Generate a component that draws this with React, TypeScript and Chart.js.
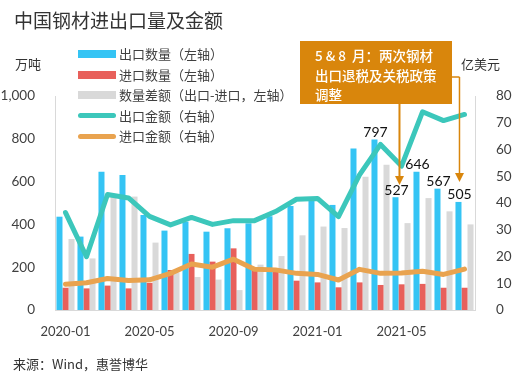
import React, { useEffect, useRef } from 'react';
import { Chart, registerables } from 'chart.js';

Chart.register(...registerables);

// ---- data ----
const months = [
  '2020-01', '2020-02', '2020-03', '2020-04', '2020-05', '2020-06', '2020-07', '2020-08', '2020-09', '2020-10',
  '2020-11', '2020-12', '2021-01', '2021-02', '2021-03', '2021-04', '2021-05', '2021-06', '2021-07', '2021-08',
];
const shownTicks = ['2020-01', '2020-05', '2020-09', '2021-01', '2021-05'];
// 万吨
const exportQty = [436, 343, 646, 631, 444, 371, 413, 366, 382, 405, 438, 486, 514, 491, 755, 797, 527, 646, 567, 505];
const importQty = [104, 101, 114, 101, 127, 187, 262, 226, 288, 187, 185, 137, 129, 106, 129, 117, 120, 122, 104, 104];
const diffQty = [332, 241, 530, 530, 315, 176, 154, 142, 93, 212, 252, 349, 390, 383, 623, 679, 406, 523, 461, 400];
// 亿美元
const exportAmt = [36.4, 19.9, 43.2, 41.9, 35.0, 31.8, 34.6, 32.0, 33.4, 33.4, 36.8, 41.4, 41.7, 34.9, 50.5, 61.9, 53.8, 74.1, 70.8, 73.1];
const importAmt = [9.6, 10.2, 11.8, 11.0, 11.3, 13.7, 17.2, 16.0, 19.0, 15.2, 15.0, 13.7, 13.3, 11.2, 15.2, 13.7, 13.8, 14.5, 13.3, 15.3];
const labeledIdx = [15, 16, 17, 18, 19];

const legendItems = [
  { text: '出口数量（左轴）', color: '#35C4F4', kind: 'bar' },
  { text: '进口数量（左轴）', color: '#E8605B', kind: 'bar' },
  { text: '数量差额（出口-进口，左轴）', color: '#D9D9D9', kind: 'bar' },
  { text: '出口金额（右轴）', color: '#3CC7BB', kind: 'line' },
  { text: '进口金额（右轴）', color: '#E9A34F', kind: 'line' },
];

const FONT_CN = '"Noto Sans CJK SC", "Noto Sans", sans-serif';
const FONT_NUM = 'Lato, "Noto Sans", sans-serif';
const BOX = '#D9860C';
const TEXT = '#333333';

const annotPlugin = {
  id: 'annot',
  afterDatasetsDraw(chart: any) {
    const ctx = chart.ctx;
    const meta = chart.getDatasetMeta(0);
    ctx.save();
    // arrows
    const drawArrow = (x: number, y0: number, tip: number, lw: number) => {
      ctx.strokeStyle = BOX;
      ctx.fillStyle = BOX;
      ctx.lineWidth = lw;
      ctx.beginPath();
      ctx.moveTo(x, y0);
      ctx.lineTo(x, tip - 8);
      ctx.stroke();
      ctx.beginPath();
      ctx.moveTo(x - 4.5, tip - 9);
      ctx.lineTo(x + 4.5, tip - 9);
      ctx.lineTo(x, tip);
      ctx.closePath();
      ctx.fill();
    };
    const x1 = meta.data[16].x + 4;
    const x2 = meta.data[19].x + 1;
    drawArrow(x1, 104, 185, 2);
    ctx.lineWidth = 1.5;
    ctx.beginPath();
    ctx.moveTo(451, 77);
    ctx.lineTo(x2, 77);
    ctx.stroke();
    drawArrow(x2, 77, 182, 1.5);

    // labels
    ctx.fillStyle = '#111111';
    ctx.font = `14px ${FONT_NUM}`;
    ctx.textAlign = 'center';
    ctx.textBaseline = 'alphabetic';
    labeledIdx.forEach((i) => {
      const el = meta.data[i];
      ctx.fillText(String(exportQty[i]), el.x + 1, el.y - 2.5);
    });
    ctx.restore();
  },
};

export default function App() {
  const ref = useRef<HTMLCanvasElement | null>(null);

  useEffect(() => {
    if (!ref.current) return;
    const chart = new Chart(ref.current, {
      type: 'bar',
      data: {
        labels: months,
        datasets: [
          { type: 'bar', label: '出口数量', data: exportQty, backgroundColor: '#35C4F4', yAxisID: 'y', order: 2, barPercentage: 1, categoryPercentage: 0.86 },
          { type: 'bar', label: '进口数量', data: importQty, backgroundColor: '#E8605B', yAxisID: 'y', order: 2, barPercentage: 1, categoryPercentage: 0.86 },
          { type: 'bar', label: '数量差额', data: diffQty, backgroundColor: '#D9D9D9', yAxisID: 'y', order: 2, barPercentage: 1, categoryPercentage: 0.86 },
          { type: 'line', label: '出口金额', data: exportAmt, borderColor: '#3CC7BB', backgroundColor: '#3CC7BB', borderWidth: 5, pointRadius: 0, tension: 0, yAxisID: 'y1', order: 1, borderJoinStyle: 'round', borderCapStyle: 'round' },
          { type: 'line', label: '进口金额', data: importAmt, borderColor: '#E9A34F', backgroundColor: '#E9A34F', borderWidth: 5, pointRadius: 0, tension: 0, yAxisID: 'y1', order: 1, borderJoinStyle: 'round', borderCapStyle: 'round' },
        ] as any,
      },
      options: {
        responsive: false,
        animation: false,
        devicePixelRatio: 1,
        layout: { padding: { top: 96, left: 0, right: 0, bottom: 0 } },
        plugins: { legend: { display: false }, tooltip: { enabled: false }, title: { display: false } },
        scales: {
          x: {
            grid: { display: false },
            border: { display: true, color: '#D9D9D9', width: 1 },
            ticks: {
              autoSkip: false,
              maxRotation: 0,
              padding: 6,
              color: '#404040',
              font: { family: FONT_NUM, size: 13 },
              callback: (_v: any, i: number) => (shownTicks.includes(months[i]) ? months[i] : ''),
            },
            afterFit: (s: any) => { s.height = 71; },
          },
          y: {
            position: 'left',
            min: 0,
            max: 1000,
            grid: { display: false },
            border: { display: true, color: '#D9D9D9', width: 1 },
            ticks: {
              stepSize: 200,
              padding: 12,
              color: '#404040',
              font: { family: FONT_NUM, size: 13.5 },
              callback: (v: any) => Number(v).toLocaleString('en-US'),
            },
            afterFit: (s: any) => { s.width = 55; },
          },
          y1: {
            position: 'right',
            min: 0,
            max: 80,
            grid: { display: false },
            border: { display: true, color: '#D9D9D9', width: 1 },
            ticks: {
              stepSize: 10,
              padding: 13,
              color: '#404040',
              font: { family: FONT_NUM, size: 13.5 },
            },
            afterFit: (s: any) => { s.width = 42; },
          },
        },
      } as any,
      plugins: [annotPlugin],
    });
    return () => chart.destroy();
  }, []);

  return (
    <div style={{ position: 'absolute', left: 0, top: 0, width: 517, height: 381, background: '#ffffff', overflow: 'hidden' }}>
      <canvas ref={ref} width={517} height={381} style={{ position: 'absolute', left: 0, top: 0, width: 517, height: 381 }} />
      <div style={{ position: 'absolute', left: 14, top: 7, fontFamily: FONT_CN, fontSize: 19, color: TEXT, lineHeight: '25px', whiteSpace: 'nowrap' }}>
        中国钢材进出口量及金额
      </div>
      <div style={{ position: 'absolute', left: 15, top: 55, fontFamily: FONT_CN, fontSize: 13, color: TEXT, lineHeight: '18px' }}>万吨</div>
      <div style={{ position: 'absolute', left: 461, top: 55, fontFamily: FONT_CN, fontSize: 13, color: TEXT, lineHeight: '18px' }}>亿美元</div>
      {legendItems.map((it, i) => {
        const cy = 54 + i * 20.5;
        return (
          <div key={i}>
            <div
              style={{
                position: 'absolute',
                left: 78,
                top: it.kind === 'bar' ? cy - 4 : cy - 2.5,
                width: 38,
                height: it.kind === 'bar' ? 8 : 5,
                borderRadius: it.kind === 'bar' ? 0 : 3,
                background: it.color,
              }}
            />
            <div style={{ position: 'absolute', left: 119, top: cy - 9, fontFamily: FONT_CN, fontSize: 13, color: '#404040', lineHeight: '18px', whiteSpace: 'nowrap' }}>
              {it.text}
            </div>
          </div>
        );
      })}
      <div
        style={{
          position: 'absolute',
          left: 300,
          top: 41,
          width: 152,
          height: 63,
          background: BOX,
          color: '#ffffff',
          fontFamily: FONT_CN,
          fontSize: 13.5,
          fontWeight: 500,
          lineHeight: '19.5px',
          boxSizing: 'border-box',
          padding: '5px 0 0 15px',
          whiteSpace: 'pre',
        }}
      >
        <div>5 &amp; 8  月：两次钢材</div>
        <div>出口退税及关税政策</div>
        <div>调整</div>
      </div>
      <div style={{ position: 'absolute', left: 13, top: 355, fontFamily: FONT_CN, fontSize: 13, color: TEXT, lineHeight: '18px', whiteSpace: 'nowrap' }}>
        来源：Wind，惠誉博华
      </div>
    </div>
  );
}
